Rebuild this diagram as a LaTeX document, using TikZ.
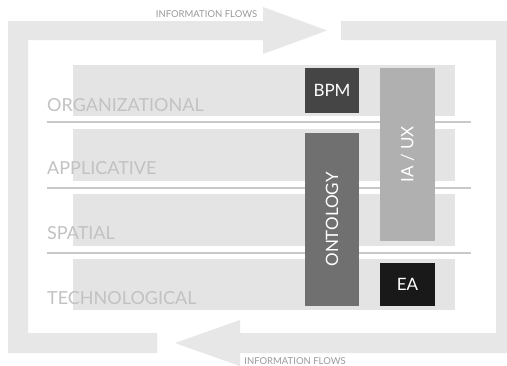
\documentclass[tikz,border=0pt]{standalone}
\usepackage{fontspec}
\setmainfont{Lato}
\definecolor{band}{HTML}{E7E7E7}
\definecolor{rowfill}{HTML}{E4E4E4}
\definecolor{labelgray}{HTML}{C2C2C2}
\definecolor{sepgray}{HTML}{C9C9C9}
\definecolor{flowtext}{HTML}{9A9A9A}
\begin{document}
\begin{tikzpicture}[x=1pt,y=-1pt,
  rowbox/.style={fill=rowfill},
  layerlabel/.style={anchor=west,inner sep=0pt,text=labelgray,font=\fontsize{18}{18}\selectfont},
  seprule/.style={draw=sepgray,line width=2pt},
  block/.style={inner sep=0pt,text=white,font=\fontsize{17}{17}\selectfont},
  flowlabel/.style={inner sep=0pt,text=flowtext,font=\fontsize{9.5}{9.5}\selectfont}]
\useasboundingbox (0,0) rectangle (507,365);
\fill[white] (0,0) rectangle (507,365);
% frame with arrows
\fill[band] (8,21) -- (263,21) -- (263,7) -- (327,30.5) -- (263,54) -- (263,40) -- (28,40) -- (28,333) -- (157,333) -- (157,353) -- (8,353) -- cycle;
\fill[band] (341,21) -- (507,21) -- (507,353) -- (240,353) -- (240,366) -- (175,343) -- (240,320) -- (240,333) -- (496,333) -- (496,40) -- (341,40) -- cycle;
\node[flowlabel] (flowtop) at (206.5,14) {INFORMATION FLOWS};
\node[flowlabel] (flowbot) at (295,361) {INFORMATION FLOWS};
% rows
\fill[rowbox] (73,65) rectangle (455,116);
\fill[rowbox] (73,129) rectangle (455,181);
\fill[rowbox] (73,194) rectangle (455,246);
\fill[rowbox] (73,259) rectangle (455,310);
\draw[seprule] (47,122) -- (471,122);
\draw[seprule] (47,188) -- (471,188);
\draw[seprule] (47,253) -- (471,253);
\node[layerlabel] (org) at (47,105) {ORGANIZATIONAL};
\node[layerlabel] (app) at (47,168) {APPLICATIVE};
\node[layerlabel] (spa) at (47,233) {SPATIAL};
\node[layerlabel] (tec) at (47,298) {TECHNOLOGICAL};
% blocks
\node[block,fill=black!73,minimum width=54pt,minimum height=45pt] (bpm) at (332,90.5) {BPM};
\node[block,fill=black!31,minimum width=55pt,minimum height=173pt] (iaux) at (407.5,154.5) {};
\node[block,rotate=90] (iauxt) at (407.5,154.5) {IA / UX};
\node[block,fill=black!56,minimum width=54pt,minimum height=173pt] (onto) at (332,219.5) {};
\node[block,rotate=90] (ontot) at (332,219.5) {ONTOLOGY};
\node[block,fill=black!90,minimum width=55pt,minimum height=43pt] (ea) at (407.5,284.5) {EA};
\end{tikzpicture}
\end{document}
